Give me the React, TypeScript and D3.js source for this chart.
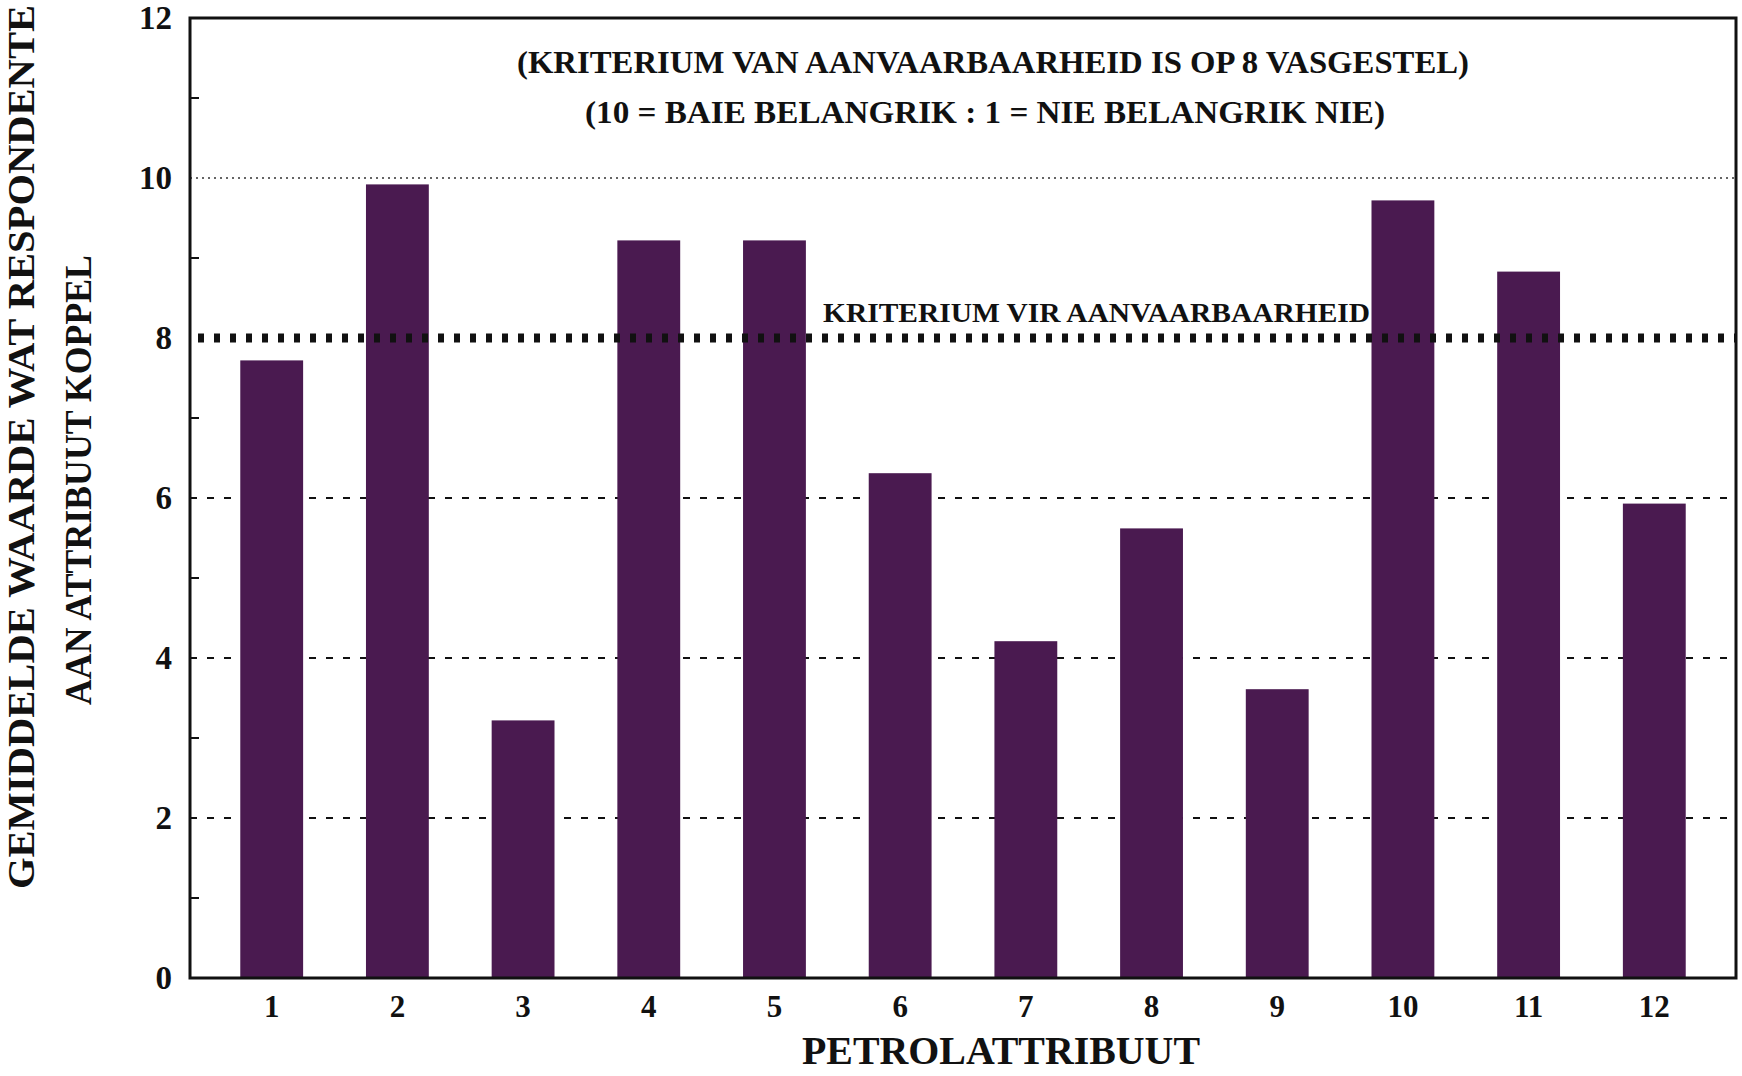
import React, { useEffect, useRef } from 'react';
import * as d3 from 'd3';

const categories = ['1', '2', '3', '4', '5', '6', '7', '8', '9', '10', '11', '12'];
const meanValues = [7.72, 9.92, 3.22, 9.22, 9.22, 6.31, 4.21, 5.62, 3.61, 9.72, 8.83, 5.93];
const yTicks = [0, 2, 4, 6, 8, 10, 12];
const minorTicks = [1, 3, 5, 7, 9, 11];
const dashedLevels = [2, 4, 6];
const criterion = 8;
const noteLines = [
  '(KRITERIUM VAN AANVAARBAARHEID IS OP 8 VASGESTEL)',
  '(10 = BAIE BELANGRIK : 1 = NIE BELANGRIK NIE)',
];

const App: React.FC = () => {
  const svgRef = useRef<SVGSVGElement>(null);

  useEffect(() => {
    if (!svgRef.current) return;

    const width = 1742;
    const height = 1076;
    const left = 190;
    const right = 1736;
    const top = 18;
    const bottom = 978;
    const font = '"Liberation Serif", "Times New Roman", serif';
    const barColor = '#4a1a50';

    const svg = d3.select(svgRef.current)
      .attr('width', width)
      .attr('height', height)
      .html('');

    const x = d3.scaleBand<string>()
      .domain(categories)
      .range([left, right])
      .paddingInner(0.5)
      .paddingOuter(0.4);

    const y = d3.scaleLinear().domain([0, 12]).range([bottom, top]);

    // dashed grid at 2, 4, 6
    svg.selectAll('.grid')
      .data(dashedLevels)
      .enter().append('line')
      .attr('x1', left).attr('x2', right)
      .attr('y1', d => y(d)).attr('y2', d => y(d))
      .style('stroke', '#111')
      .style('stroke-width', 2)
      .style('stroke-dasharray', '7 10');

    // fine dotted line at 10
    svg.append('line')
      .attr('x1', left).attr('x2', right)
      .attr('y1', y(10)).attr('y2', y(10))
      .style('stroke', '#333')
      .style('stroke-width', 1.5)
      .style('stroke-dasharray', '2 4');

    // bars
    svg.selectAll('.bar')
      .data(meanValues)
      .enter().append('rect')
      .attr('x', (d, i) => x(categories[i])!)
      .attr('width', x.bandwidth())
      .attr('y', d => y(d))
      .attr('height', d => bottom - y(d))
      .style('fill', barColor);

    // criterion line
    svg.append('line')
      .attr('x1', left + 8).attr('x2', right)
      .attr('y1', y(criterion)).attr('y2', y(criterion))
      .style('stroke', '#111')
      .style('stroke-width', 9)
      .style('stroke-dasharray', '6 10');

    svg.append('text')
      .attr('x', 823)
      .attr('y', 322)
      .attr('textLength', 547)
      .attr('lengthAdjust', 'spacingAndGlyphs')
      .style('font-family', font)
      .style('font-weight', 'bold')
      .style('font-size', '28px')
      .style('fill', '#111')
      .text('KRITERIUM VIR AANVAARBAARHEID');

    // frame
    svg.append('rect')
      .attr('x', left).attr('y', top)
      .attr('width', right - left).attr('height', bottom - top)
      .style('fill', 'none')
      .style('stroke', '#111')
      .style('stroke-width', 3);

    // y ticks
    svg.selectAll('.minor')
      .data(minorTicks)
      .enter().append('line')
      .attr('x1', left).attr('x2', left + 9)
      .attr('y1', d => y(d)).attr('y2', d => y(d))
      .style('stroke', '#111')
      .style('stroke-width', 2);

    svg.selectAll('.ylab')
      .data(yTicks)
      .enter().append('text')
      .attr('x', 172)
      .attr('y', d => y(d) + 11)
      .attr('text-anchor', 'end')
      .style('font-family', font)
      .style('font-weight', 'bold')
      .style('font-size', '33px')
      .style('fill', '#111')
      .text(d => d);

    // x tick labels
    svg.selectAll('.xlab')
      .data(categories)
      .enter().append('text')
      .attr('x', d => x(d)! + x.bandwidth() / 2)
      .attr('y', 1017)
      .attr('text-anchor', 'middle')
      .style('font-family', font)
      .style('font-weight', 'bold')
      .style('font-size', '31px')
      .style('fill', '#111')
      .text(d => d);

    svg.append('text')
      .attr('x', 1001)
      .attr('y', 1064)
      .attr('text-anchor', 'middle')
      .attr('textLength', 398)
      .attr('lengthAdjust', 'spacingAndGlyphs')
      .style('font-family', font)
      .style('font-weight', 'bold')
      .style('font-size', '40px')
      .style('fill', '#111')
      .text('PETROLATTRIBUUT');

    // notes at top
    const noteSpans = [[517, 1469, 73], [585, 1385, 123]];
    noteLines.forEach((t, i) => {
      const [x0, x1, yy] = noteSpans[i];
      svg.append('text')
        .attr('x', x0)
        .attr('y', yy)
        .attr('textLength', x1 - x0)
        .attr('lengthAdjust', 'spacingAndGlyphs')
        .style('font-family', font)
        .style('font-weight', 'bold')
        .style('font-size', '31px')
        .style('fill', '#111')
        .text(t);
    });

    // y axis title (two lines)
    const yTitle = [
      { text: 'GEMIDDELDE WAARDE WAT RESPONDENTE', x: 34, cy: 447, len: 884 },
      { text: 'AAN ATTRIBUUT KOPPEL', x: 91, cy: 480, len: 450 },
    ];
    yTitle.forEach(l => {
      svg.append('text')
        .attr('transform', `translate(${l.x}, ${l.cy}) rotate(-90)`)
        .attr('text-anchor', 'middle')
        .attr('textLength', l.len)
        .attr('lengthAdjust', 'spacingAndGlyphs')
        .style('font-family', font)
        .style('font-weight', 'bold')
        .style('font-size', '38px')
        .style('fill', '#111')
        .text(l.text);
    });
  }, []);

  return (
    <svg ref={svgRef} style={{ position: 'absolute', left: 0, top: 0, display: 'block', background: '#fff' }}></svg>
  );
};

export default App;
